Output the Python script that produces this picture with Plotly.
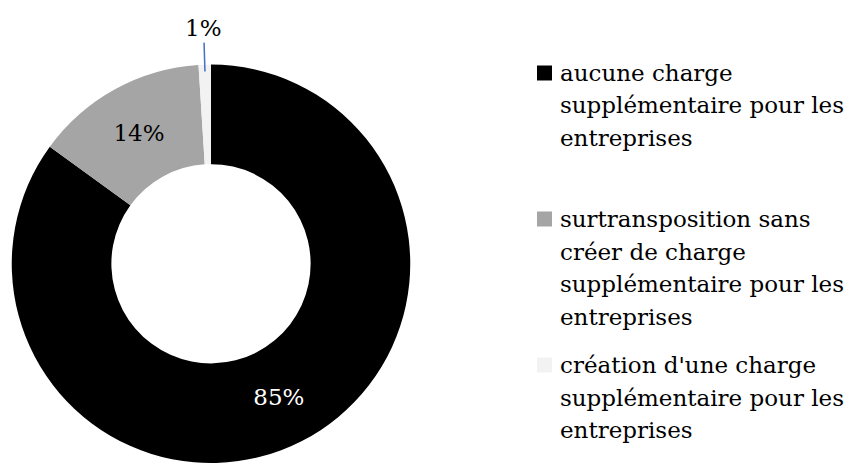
import math
import plotly.graph_objects as go

# Répartition des mesures de transposition selon la charge créée pour les entreprises
categories = [
    "aucune charge supplémentaire pour les entreprises",
    "surtransposition sans créer de charge supplémentaire pour les entreprises",
    "création d'une charge supplémentaire pour les entreprises",
]
legend_lines = [
    ["aucune charge", "supplémentaire pour les", "entreprises"],
    ["surtransposition sans", "créer de charge", "supplémentaire pour les", "entreprises"],
    ["création d'une charge", "supplémentaire pour les", "entreprises"],
]
shares = [85, 14, 1]
colors = ["#000000", "#A5A5A5", "#F2F2F2"]
text_colors = ["#FFFFFF", "#000000", "#000000"]
inside_label = [True, True, False]

W, H = 846, 463
FONT = "DejaVu Serif"
FS = 23

# pie placement (pixels): centre and outer radius
cx, radius = 211.0, 199.25
cy = H - radius
hole = 0.5

def px_to_paper(x, y):
    return x / W, 1 - y / H

dom_x = [(cx - radius) / W, (cx + radius) / W]
dom_y = [0.0, (2 * radius) / H]

fig = go.Figure()
fig.add_trace(go.Pie(
    labels=categories,
    values=shares,
    sort=False,
    direction="clockwise",
    rotation=0,
    hole=hole,
    marker=dict(colors=colors, line=dict(width=0)),
    texttemplate=["%{value}%" if show else "" for show in inside_label],
    textposition="inside",
    insidetextorientation="horizontal",
    textfont=dict(family=FONT, size=FS, color=text_colors),
    domain=dict(x=dom_x, y=dom_y),
    showlegend=False,
    hoverinfo="label+percent",
))

shapes = []
annotations = []

# outside labels with a leader line for the thin slices
total = sum(shares)
cum = 0
for v, show in zip(shares, inside_label):
    theta = 2 * math.pi * (cum + v / 2) / total
    cum += v
    if show:
        continue
    sx, sy = math.sin(theta), -math.cos(theta)
    x0, y0 = px_to_paper(cx + (radius - 7) * sx, cy + (radius - 7) * sy)
    x1, y1 = px_to_paper(cx + (radius + 22) * sx, cy + (radius + 22) * sy)
    shapes.append(dict(type="line", xref="paper", yref="paper",
                       x0=x0, y0=y0, x1=x1, y1=y1,
                       line=dict(color="#4472C4", width=1.5)))
    lx, ly = px_to_paper(cx + (radius + 37) * sx, cy + (radius + 37) * sy)
    annotations.append(dict(text=f"{v}%", x=lx, y=ly, xref="paper", yref="paper",
                            xanchor="center", yanchor="middle", showarrow=False,
                            font=dict(family=FONT, size=FS, color="#000000")))

# legend block on the right
sq_x0, sq_size = 537, 15
text_x = 558
legend_top = 73
entry_step = 146
line_step = 32.5
for k, (lines, col) in enumerate(zip(legend_lines, colors)):
    top = legend_top + entry_step * k
    a0, b0 = px_to_paper(sq_x0, top - sq_size / 2)
    a1, b1 = px_to_paper(sq_x0 + sq_size, top + sq_size / 2)
    shapes.append(dict(type="rect", xref="paper", yref="paper",
                       x0=a0, x1=a1, y0=b1, y1=b0,
                       fillcolor=col, line=dict(width=0)))
    for j, line in enumerate(lines):
        tx, ty = px_to_paper(text_x, top + line_step * j)
        annotations.append(dict(text=line, x=tx, y=ty, xref="paper", yref="paper",
                                xanchor="left", yanchor="middle", showarrow=False,
                                font=dict(family=FONT, size=FS, color="#000000")))

fig.update_layout(
    width=W, height=H,
    margin=dict(l=0, r=0, t=0, b=0),
    paper_bgcolor="#FFFFFF",
    plot_bgcolor="#FFFFFF",
    shapes=shapes,
    annotations=annotations,
    font=dict(family=FONT, size=FS, color="#000000"),
)

fig.write_html("out.html")
